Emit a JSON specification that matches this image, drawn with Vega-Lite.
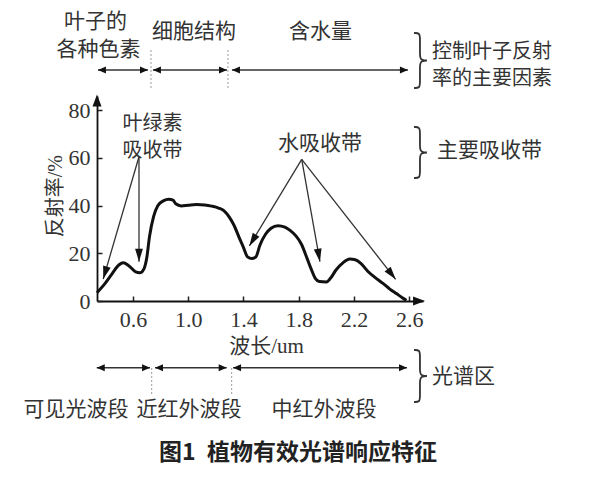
{
  "$schema": "https://vega.github.io/schema/vega-lite/v6.json",
  "width": 326,
  "height": 205,
  "autosize": {"type": "none"},
  "padding": {"left": 97, "top": 96, "right": 177, "bottom": 179},
  "background": "white",
  "config": {
    "view": {"stroke": null},
    "axis": {
      "grid": false,
      "title": null,
      "labelFont": "Liberation Serif",
      "labelFontSize": 22,
      "labelColor": "#333",
      "labelFlush": false,
      "labelOverlap": false,
      "tickSize": -5,
      "tickColor": "#222",
      "tickWidth": 1.5,
      "domainColor": "#111",
      "domainWidth": 1.8
    }
  },
  "datasets": {
    "curve": [
      {"wavelength": 0.34, "reflectance": 3.5},
      {"wavelength": 0.40, "reflectance": 7.5},
      {"wavelength": 0.45, "reflectance": 11.5},
      {"wavelength": 0.50, "reflectance": 15.2},
      {"wavelength": 0.53, "reflectance": 16.0},
      {"wavelength": 0.57, "reflectance": 14.8},
      {"wavelength": 0.62, "reflectance": 12.2},
      {"wavelength": 0.65, "reflectance": 11.8},
      {"wavelength": 0.68, "reflectance": 13.5},
      {"wavelength": 0.70, "reflectance": 18.0},
      {"wavelength": 0.72, "reflectance": 27.0},
      {"wavelength": 0.75, "reflectance": 35.5},
      {"wavelength": 0.78, "reflectance": 40.0},
      {"wavelength": 0.82, "reflectance": 42.0},
      {"wavelength": 0.86, "reflectance": 42.7},
      {"wavelength": 0.89, "reflectance": 42.3},
      {"wavelength": 0.91, "reflectance": 40.8},
      {"wavelength": 0.95, "reflectance": 39.9},
      {"wavelength": 1.00, "reflectance": 40.2},
      {"wavelength": 1.06, "reflectance": 40.5},
      {"wavelength": 1.12, "reflectance": 40.3},
      {"wavelength": 1.17, "reflectance": 39.8},
      {"wavelength": 1.22, "reflectance": 39.0},
      {"wavelength": 1.26, "reflectance": 37.8},
      {"wavelength": 1.30, "reflectance": 35.0},
      {"wavelength": 1.33, "reflectance": 32.0},
      {"wavelength": 1.37, "reflectance": 26.5},
      {"wavelength": 1.40, "reflectance": 22.5},
      {"wavelength": 1.43, "reflectance": 18.5},
      {"wavelength": 1.46, "reflectance": 17.8},
      {"wavelength": 1.49, "reflectance": 18.5},
      {"wavelength": 1.52, "reflectance": 23.5},
      {"wavelength": 1.56, "reflectance": 28.0},
      {"wavelength": 1.60, "reflectance": 30.5},
      {"wavelength": 1.65, "reflectance": 31.6},
      {"wavelength": 1.70, "reflectance": 31.0},
      {"wavelength": 1.74, "reflectance": 29.5},
      {"wavelength": 1.78, "reflectance": 27.3},
      {"wavelength": 1.82, "reflectance": 23.8},
      {"wavelength": 1.86, "reflectance": 18.0},
      {"wavelength": 1.89, "reflectance": 13.5},
      {"wavelength": 1.92, "reflectance": 9.5},
      {"wavelength": 1.95, "reflectance": 8.2},
      {"wavelength": 2.00, "reflectance": 8.0},
      {"wavelength": 2.03, "reflectance": 9.5},
      {"wavelength": 2.07, "reflectance": 13.0},
      {"wavelength": 2.12, "reflectance": 16.0},
      {"wavelength": 2.17, "reflectance": 17.6},
      {"wavelength": 2.21, "reflectance": 17.3},
      {"wavelength": 2.25, "reflectance": 15.8},
      {"wavelength": 2.30, "reflectance": 12.5},
      {"wavelength": 2.35, "reflectance": 10.0},
      {"wavelength": 2.41, "reflectance": 7.4},
      {"wavelength": 2.46, "reflectance": 5.0},
      {"wavelength": 2.51, "reflectance": 3.0},
      {"wavelength": 2.55, "reflectance": 1.4},
      {"wavelength": 2.58, "reflectance": 0.3}
    ],
    "pointers": [
      {"band": "chl-a", "x": 0.644, "y": 60.5, "x2": 0.385, "y2": 9.2},
      {"band": "chl-b", "x": 0.644, "y": 60.5, "x2": 0.644, "y2": 16.5},
      {"band": "h2o-a", "x": 1.822, "y": 59.4, "x2": 1.443, "y2": 23.1},
      {"band": "h2o-b", "x": 1.822, "y": 59.4, "x2": 1.954, "y2": 16.5},
      {"band": "h2o-c", "x": 1.822, "y": 59.4, "x2": 2.502, "y2": 9.1}
    ],
    "spans": [
      {"row": "factor", "x": 0.347, "x2": 0.709, "y": 96.9},
      {"row": "factor", "x": 0.745, "x2": 1.281, "y": 96.9},
      {"row": "factor", "x": 1.317, "x2": 2.591, "y": 96.9},
      {"row": "region", "x": 0.338, "x2": 0.724, "y": -28.0},
      {"row": "region", "x": 0.760, "x2": 1.279, "y": -28.0},
      {"row": "region", "x": 1.325, "x2": 2.584, "y": -28.0}
    ],
    "dividers": [
      {"x": 0.731, "y": 105.3, "y2": 88.5},
      {"x": 1.288, "y": 105.3, "y2": 88.5},
      {"x": 0.736, "y": -28.1, "y2": -39.4},
      {"x": 1.315, "y": -28.1, "y2": -39.4}
    ],
    "braces": [
      {"brace": "factor", "k": 0, "x": 2.635, "y": 112.43},
      {"brace": "factor", "k": 1, "x": 2.678, "y": 112.43},
      {"brace": "factor", "k": 2, "x": 2.678, "y": 109.91},
      {"brace": "factor", "k": 3, "x": 2.678, "y": 103.41},
      {"brace": "factor", "k": 4, "x": 2.678, "y": 100.89},
      {"brace": "factor", "k": 5, "x": 2.754, "y": 100.89},
      {"brace": "factor", "k": 6, "x": 2.678, "y": 100.89},
      {"brace": "factor", "k": 7, "x": 2.678, "y": 98.38},
      {"brace": "factor", "k": 8, "x": 2.678, "y": 91.87},
      {"brace": "factor", "k": 9, "x": 2.678, "y": 89.36},
      {"brace": "factor", "k": 10, "x": 2.635, "y": 89.36},
      {"brace": "band", "k": 0, "x": 2.635, "y": 72.99},
      {"brace": "band", "k": 1, "x": 2.678, "y": 72.99},
      {"brace": "band", "k": 2, "x": 2.678, "y": 70.47},
      {"brace": "band", "k": 3, "x": 2.678, "y": 64.82},
      {"brace": "band", "k": 4, "x": 2.678, "y": 62.30},
      {"brace": "band", "k": 5, "x": 2.754, "y": 62.30},
      {"brace": "band", "k": 6, "x": 2.678, "y": 62.30},
      {"brace": "band", "k": 7, "x": 2.678, "y": 59.78},
      {"brace": "band", "k": 8, "x": 2.678, "y": 54.12},
      {"brace": "band", "k": 9, "x": 2.678, "y": 51.60},
      {"brace": "band", "k": 10, "x": 2.635, "y": 51.60},
      {"brace": "region", "k": 0, "x": 2.635, "y": -20.56},
      {"brace": "region", "k": 1, "x": 2.678, "y": -20.56},
      {"brace": "region", "k": 2, "x": 2.678, "y": -23.07},
      {"brace": "region", "k": 3, "x": 2.678, "y": -28.95},
      {"brace": "region", "k": 4, "x": 2.678, "y": -31.46},
      {"brace": "region", "k": 5, "x": 2.754, "y": -31.46},
      {"brace": "region", "k": 6, "x": 2.678, "y": -31.46},
      {"brace": "region", "k": 7, "x": 2.678, "y": -33.98},
      {"brace": "region", "k": 8, "x": 2.678, "y": -39.85},
      {"brace": "region", "k": 9, "x": 2.678, "y": -42.37},
      {"brace": "region", "k": 10, "x": 2.635, "y": -42.37}
    ],
    "labels": [
      {"label": "叶子的", "x": 0.329, "y": 117.0},
      {"label": "各种色素", "x": 0.351, "y": 105.1},
      {"label": "细胞结构", "x": 1.042, "y": 112.8},
      {"label": "含水量", "x": 1.958, "y": 112.8},
      {"label": "水吸收带", "x": 1.954, "y": 65.9},
      {"label": "可见光波段", "x": 0.188, "y": -45.7},
      {"label": "近红外波段", "x": 1.006, "y": -45.7},
      {"label": "中红外波段", "x": 1.983, "y": -45.7}
    ],
    "pairedLabels": [
      {"label": "叶绿素", "x": 0.742, "y": 74.3},
      {"label": "吸收带", "x": 0.742, "y": 62.9}
    ],
    "notes": [
      {"label": "主要吸收带", "x": 2.801, "y": 62.9},
      {"label": "光谱区", "x": 2.765, "y": -31.7}
    ],
    "pairedNotes": [
      {"label": "控制叶子反射", "x": 2.765, "y": 104.5},
      {"label": "率的主要因素", "x": 2.765, "y": 93.1}
    ]
  },
  "layer": [
    {
      "data": {"name": "curve"},
      "mark": {"type": "line", "interpolate": "monotone", "color": "#111", "strokeWidth": 3},
      "encoding": {
        "x": {"field": "wavelength", "type": "quantitative",
              "scale": {"domain": [0.34, 2.7], "nice": false, "zero": false},
              "axis": {"values": [0.6, 1.0, 1.4, 1.8, 2.2, 2.6], "format": ".1f", "labelPadding": 13}},
        "y": {"field": "reflectance", "type": "quantitative",
              "scale": {"domain": [0, 86], "nice": false, "zero": false},
              "axis": {"values": [0, 20, 40, 60, 80], "format": "d", "labelPadding": 12}}
      }
    },
    {
      "data": {"values": [{"x": 0.34, "y": 86.6}]},
      "mark": {"type": "point", "shape": "M0,0L-0.75,2L0.75,2Z", "size": 144, "filled": true, "opacity": 1, "color": "#111", "angle": 0},
      "encoding": {
        "x": {"field": "x", "type": "quantitative", "scale": {"domain": [0.34, 2.7], "nice": false, "zero": false}},
        "y": {"field": "y", "type": "quantitative", "scale": {"domain": [0, 86], "nice": false, "zero": false}}
      }
    },
    {
      "data": {"values": [{"x": 2.715, "y": 0}]},
      "mark": {"type": "point", "shape": "M0,0L-0.75,2L0.75,2Z", "size": 144, "filled": true, "opacity": 1, "color": "#111", "angle": 90},
      "encoding": {
        "x": {"field": "x", "type": "quantitative", "scale": {"domain": [0.34, 2.7], "nice": false, "zero": false}},
        "y": {"field": "y", "type": "quantitative", "scale": {"domain": [0, 86], "nice": false, "zero": false}}
      }
    },
    {
      "data": {"name": "pointers"},
      "mark": {"type": "rule", "color": "#333", "strokeWidth": 1.3},
      "encoding": {
        "x": {"field": "x", "type": "quantitative", "scale": {"domain": [0.34, 2.7], "nice": false, "zero": false}},
        "y": {"field": "y", "type": "quantitative", "scale": {"domain": [0, 86], "nice": false, "zero": false}},
        "x2": {"field": "x2"},
        "y2": {"field": "y2"}
      }
    },
    {
      "data": {"name": "pointers"},
      "transform": [{"filter": "datum.band == 'chl-a'"}],
      "mark": {"type": "point", "shape": "M0,0L-0.6,2L0.6,2Z", "size": 169, "filled": true, "opacity": 1, "color": "#111", "angle": 196.4},
      "encoding": {
        "x": {"field": "x2", "type": "quantitative", "scale": {"domain": [0.34, 2.7], "nice": false, "zero": false}},
        "y": {"field": "y2", "type": "quantitative", "scale": {"domain": [0, 86], "nice": false, "zero": false}}
      }
    },
    {
      "data": {"name": "pointers"},
      "transform": [{"filter": "datum.band == 'chl-b'"}],
      "mark": {"type": "point", "shape": "M0,0L-0.6,2L0.6,2Z", "size": 169, "filled": true, "opacity": 1, "color": "#111", "angle": 180},
      "encoding": {
        "x": {"field": "x2", "type": "quantitative", "scale": {"domain": [0.34, 2.7], "nice": false, "zero": false}},
        "y": {"field": "y2", "type": "quantitative", "scale": {"domain": [0, 86], "nice": false, "zero": false}}
      }
    },
    {
      "data": {"name": "pointers"},
      "transform": [{"filter": "datum.band == 'h2o-a'"}],
      "mark": {"type": "point", "shape": "M0,0L-0.6,2L0.6,2Z", "size": 169, "filled": true, "opacity": 1, "color": "#111", "angle": 211.1},
      "encoding": {
        "x": {"field": "x2", "type": "quantitative", "scale": {"domain": [0.34, 2.7], "nice": false, "zero": false}},
        "y": {"field": "y2", "type": "quantitative", "scale": {"domain": [0, 86], "nice": false, "zero": false}}
      }
    },
    {
      "data": {"name": "pointers"},
      "transform": [{"filter": "datum.band == 'h2o-b'"}],
      "mark": {"type": "point", "shape": "M0,0L-0.6,2L0.6,2Z", "size": 169, "filled": true, "opacity": 1, "color": "#111", "angle": 169.9},
      "encoding": {
        "x": {"field": "x2", "type": "quantitative", "scale": {"domain": [0.34, 2.7], "nice": false, "zero": false}},
        "y": {"field": "y2", "type": "quantitative", "scale": {"domain": [0, 86], "nice": false, "zero": false}}
      }
    },
    {
      "data": {"name": "pointers"},
      "transform": [{"filter": "datum.band == 'h2o-c'"}],
      "mark": {"type": "point", "shape": "M0,0L-0.6,2L0.6,2Z", "size": 169, "filled": true, "opacity": 1, "color": "#111", "angle": 141.9},
      "encoding": {
        "x": {"field": "x2", "type": "quantitative", "scale": {"domain": [0.34, 2.7], "nice": false, "zero": false}},
        "y": {"field": "y2", "type": "quantitative", "scale": {"domain": [0, 86], "nice": false, "zero": false}}
      }
    },
    {
      "data": {"name": "spans"},
      "mark": {"type": "rule", "color": "#333", "strokeWidth": 1.5},
      "encoding": {
        "x": {"field": "x", "type": "quantitative", "scale": {"domain": [0.34, 2.7], "nice": false, "zero": false}},
        "x2": {"field": "x2"},
        "y": {"field": "y", "type": "quantitative", "scale": {"domain": [0, 86], "nice": false, "zero": false}}
      }
    },
    {
      "data": {"name": "spans"},
      "mark": {"type": "point", "shape": "M0,0L-0.875,2L0.875,2Z", "size": 64, "filled": true, "opacity": 1, "color": "#111", "angle": 270},
      "encoding": {
        "x": {"field": "x", "type": "quantitative", "scale": {"domain": [0.34, 2.7], "nice": false, "zero": false}},
        "y": {"field": "y", "type": "quantitative", "scale": {"domain": [0, 86], "nice": false, "zero": false}}
      }
    },
    {
      "data": {"name": "spans"},
      "mark": {"type": "point", "shape": "M0,0L-0.875,2L0.875,2Z", "size": 64, "filled": true, "opacity": 1, "color": "#111", "angle": 90},
      "encoding": {
        "x": {"field": "x2", "type": "quantitative", "scale": {"domain": [0.34, 2.7], "nice": false, "zero": false}},
        "y": {"field": "y", "type": "quantitative", "scale": {"domain": [0, 86], "nice": false, "zero": false}}
      }
    },
    {
      "data": {"name": "dividers"},
      "mark": {"type": "rule", "color": "#999", "strokeWidth": 1, "strokeDash": [2, 2]},
      "encoding": {
        "x": {"field": "x", "type": "quantitative", "scale": {"domain": [0.34, 2.7], "nice": false, "zero": false}},
        "y": {"field": "y", "type": "quantitative", "scale": {"domain": [0, 86], "nice": false, "zero": false}},
        "y2": {"field": "y2"}
      }
    },
    {
      "data": {"name": "braces"},
      "mark": {"type": "line", "interpolate": "basis", "color": "#333", "strokeWidth": 1.8},
      "encoding": {
        "x": {"field": "x", "type": "quantitative", "scale": {"domain": [0.34, 2.7], "nice": false, "zero": false}},
        "y": {"field": "y", "type": "quantitative", "scale": {"domain": [0, 86], "nice": false, "zero": false}},
        "order": {"field": "k", "type": "quantitative"},
        "detail": {"field": "brace", "type": "nominal"}
      }
    },
    {
      "data": {"name": "labels"},
      "mark": {"type": "text", "font": "Noto Sans CJK SC", "fontSize": 21, "color": "#333", "align": "center", "baseline": "middle"},
      "encoding": {
        "x": {"field": "x", "type": "quantitative", "scale": {"domain": [0.34, 2.7], "nice": false, "zero": false}},
        "y": {"field": "y", "type": "quantitative", "scale": {"domain": [0, 86], "nice": false, "zero": false}},
        "text": {"field": "label"}
      }
    },
    {
      "data": {"name": "pairedLabels"},
      "mark": {"type": "text", "font": "Noto Sans CJK SC", "fontSize": 20, "color": "#333", "align": "center", "baseline": "middle"},
      "encoding": {
        "x": {"field": "x", "type": "quantitative", "scale": {"domain": [0.34, 2.7], "nice": false, "zero": false}},
        "y": {"field": "y", "type": "quantitative", "scale": {"domain": [0, 86], "nice": false, "zero": false}},
        "text": {"field": "label"}
      }
    },
    {
      "data": {"name": "notes"},
      "mark": {"type": "text", "font": "Noto Sans CJK SC", "fontSize": 21, "color": "#333", "align": "left", "baseline": "middle"},
      "encoding": {
        "x": {"field": "x", "type": "quantitative", "scale": {"domain": [0.34, 2.7], "nice": false, "zero": false}},
        "y": {"field": "y", "type": "quantitative", "scale": {"domain": [0, 86], "nice": false, "zero": false}},
        "text": {"field": "label"}
      }
    },
    {
      "data": {"name": "pairedNotes"},
      "mark": {"type": "text", "font": "Noto Sans CJK SC", "fontSize": 20, "color": "#333", "align": "left", "baseline": "middle"},
      "encoding": {
        "x": {"field": "x", "type": "quantitative", "scale": {"domain": [0.34, 2.7], "nice": false, "zero": false}},
        "y": {"field": "y", "type": "quantitative", "scale": {"domain": [0, 86], "nice": false, "zero": false}},
        "text": {"field": "label"}
      }
    },
    {
      "data": {"values": [{"label": "波长/um", "x": 1.567, "y": -19.1}]},
      "mark": {"type": "text", "font": "Liberation Serif, Noto Sans CJK SC", "fontSize": 21, "color": "#333", "align": "center", "baseline": "middle"},
      "encoding": {
        "x": {"field": "x", "type": "quantitative", "scale": {"domain": [0.34, 2.7], "nice": false, "zero": false}},
        "y": {"field": "y", "type": "quantitative", "scale": {"domain": [0, 86], "nice": false, "zero": false}},
        "text": {"field": "label"}
      }
    },
    {
      "data": {"values": [{"label": "反射率/%", "x": 0.043, "y": 44.0}]},
      "mark": {"type": "text", "font": "Liberation Serif, Noto Sans CJK SC", "fontSize": 20, "color": "#333", "align": "center", "baseline": "middle", "angle": 270},
      "encoding": {
        "x": {"field": "x", "type": "quantitative", "scale": {"domain": [0.34, 2.7], "nice": false, "zero": false}},
        "y": {"field": "y", "type": "quantitative", "scale": {"domain": [0, 86], "nice": false, "zero": false}},
        "text": {"field": "label"}
      }
    },
    {
      "data": {"values": [{"label": "图1\u2002植物有效光谱响应特征", "x": 1.795, "y": -63.8}]},
      "mark": {"type": "text", "font": "Noto Sans CJK SC", "fontSize": 23, "fontWeight": "bold", "color": "#222", "align": "center", "baseline": "middle"},
      "encoding": {
        "x": {"field": "x", "type": "quantitative", "scale": {"domain": [0.34, 2.7], "nice": false, "zero": false}},
        "y": {"field": "y", "type": "quantitative", "scale": {"domain": [0, 86], "nice": false, "zero": false}},
        "text": {"field": "label"}
      }
    }
  ]
}
